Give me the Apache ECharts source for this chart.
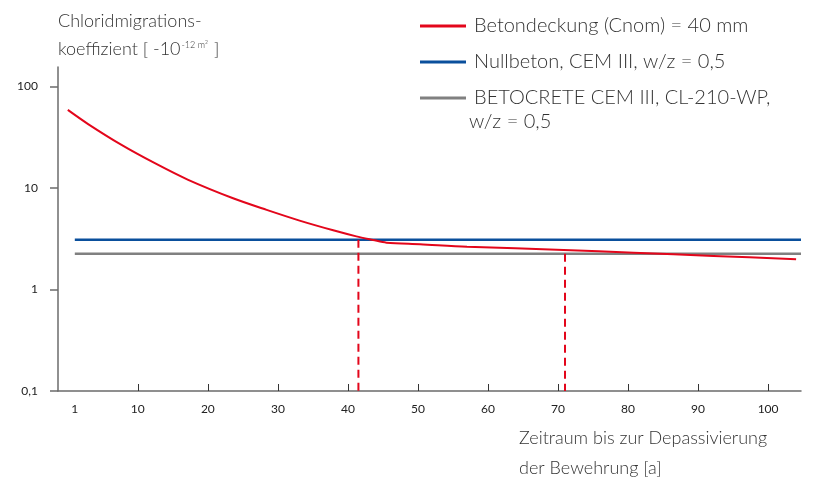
<!DOCTYPE html>
<html><head><meta charset="utf-8">
<script src="https://cdn.jsdelivr.net/npm/echarts@6/dist/echarts.min.js"></script>
<style>html,body{margin:0;padding:0;background:#fff}#c{width:814px;height:484px}</style>
</head><body><div id="c"></div>
<script>
// ---- data ----
const coverYears  = [0, 2.9, 7.67, 12.43, 17.19, 23.6, 28.4, 33.1, 37.9, 41.2, 43.6, 45.5, 50.3, 57, 70.8, 80.8, 92.2, 104];
const coverValues = [58.6, 42.5, 26.5, 17.5, 12.0, 7.9, 6.07, 4.76, 3.82, 3.33, 3.07, 2.89, 2.79, 2.64, 2.45, 2.30, 2.14, 1.98];
const lineYears = [1, 104.7];
const nullbetonValue = 3.08;
const betocreteValue = 2.24;
const markerYears = [41.5, 71];
const markerTops = [3.08, 2.24];
const xTickLabels = [1, 10, 20, 30, 40, 50, 60, 70, 80, 90, 100];
const xTickMarks = [10, 20, 30, 40, 50, 60, 70, 80, 90, 100];
const yTickLabels = {'0.1': '0,1', '1': '1', '10': '10', '100': '100'};
const seriesNames = ['Betondeckung (Cnom) = 40 mm', 'Nullbeton, CEM III, w/z = 0,5', 'BETOCRETE CEM III, CL-210-WP,'];

const FONT = 'Lato';
const RED = '#e3061b', BLUE = '#0a4f9c', GRAY = '#808080', AX = '#6b6b6b', TXT = '#333333';

const chart = echarts.init(document.getElementById('c'));
const series = [
  { name: seriesNames[0], type: 'line', smooth: 0.3, showSymbol: false, lineStyle: { color: RED, width: 2 }, itemStyle: { color: RED },
    data: coverYears.map((x, i) => [x, coverValues[i]]), z: 5 },
  { name: seriesNames[1], type: 'line', showSymbol: false, lineStyle: { color: BLUE, width: 2.5 }, itemStyle: { color: BLUE },
    data: lineYears.map(x => [x, nullbetonValue]), z: 3 },
  { name: seriesNames[2], type: 'line', showSymbol: false, lineStyle: { color: GRAY, width: 2.5 }, itemStyle: { color: GRAY },
    data: lineYears.map(x => [x, betocreteValue]), z: 3 }
];
markerYears.forEach((x, i) => series.push({
  name: 'marker' + i, type: 'line', showSymbol: false, z: 4,
  lineStyle: { color: RED, width: 2, type: [8, 5] },
  data: [[x, markerTops[i]], [x, 0.1]]
}));

chart.setOption({
  animation: false,
  grid: { left: 58, right: 13, top: 67, bottom: 93, outerBoundsMode: 'none', containLabel: false },
  legend: {
    orient: 'vertical', left: 415, top: 9, itemWidth: 46, itemHeight: 3, icon: 'rect', itemGap: 12,
    selectedMode: false, data: seriesNames,
    textStyle: { fontFamily: FONT, fontSize: 20, fontWeight: 300, color: TXT, lineHeight: 24, padding: [0, 0, 0, 3] }
  },
  graphic: [
    { type: 'text', left: 469, top: 110, style: { text: 'w/z = 0,5', fontFamily: FONT, fontSize: 20, fontWeight: 300, fill: TXT, lineHeight: 24 } },
    { type: 'text', left: 519, top: 423, style: { text: 'Zeitraum bis zur Depassivierung\nder Bewehrung [a]', fontFamily: FONT, fontSize: 18, fontWeight: 300, fill: TXT, lineHeight: 30 } }
  ],
  xAxis: {
    type: 'value', min: -1.4, max: 104.7,
    splitLine: { show: false },
    axisLine: { show: true, onZero: false, lineStyle: { color: AX, width: 1.5 } },
    axisTick: { show: true, inside: true, length: 7, customValues: xTickMarks, lineStyle: { color: '#333', width: 1 } },
    axisLabel: { customValues: xTickLabels, fontFamily: FONT, fontSize: 12, color: '#222', margin: 12 }
  },
  yAxis: {
    type: 'log', logBase: 10, min: 0.1, max: 155,
    name: '{a|Chloridmigrations-}\n{a|koeffizient [ -10}{s|-12 m²}{a| ]}', nameLocation: 'end', nameGap: 4,
    nameTextStyle: { align: 'left', verticalAlign: 'bottom', color: TXT,
      rich: { a: { fontFamily: FONT, fontSize: 18, fontWeight: 300, color: TXT, lineHeight: 28 },
              s: { fontFamily: FONT, fontSize: 9, fontWeight: 300, color: TXT, lineHeight: 12, verticalAlign: 'top', padding: [6, 1, 0, 1] } } },
    splitLine: { show: false },
    axisLine: { show: true, onZero: false, lineStyle: { color: AX, width: 1.5 } },
    axisTick: { show: true, inside: false, length: 8, lineStyle: { color: AX, width: 1.5 } },
    axisLabel: { fontFamily: FONT, fontSize: 12, color: '#222', margin: 20,
      showMaxLabel: false,
      formatter: v => { const k = String(+v.toPrecision(3)); return yTickLabels[k] !== undefined ? yTickLabels[k] : ''; } }
  },
  series: series
});
</script></body></html>
